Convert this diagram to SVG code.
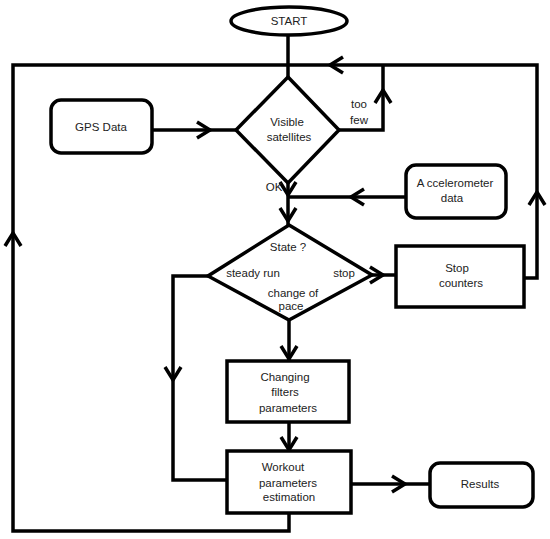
<svg xmlns="http://www.w3.org/2000/svg" xmlns:xlink="http://www.w3.org/1999/xlink" width="550" height="539" viewBox="0 0 550 539">
<style>
.s{fill:#fff;stroke:#000;stroke-width:3.5}
.c{fill:none;stroke:#000;stroke-width:3.5;stroke-linejoin:miter}
text{font-family:"Liberation Sans",Arial,sans-serif;font-size:11.5px;fill:#222;text-anchor:middle}
</style>
<defs>
<path id="chev" d="M-13,-8 L0,0 L-13,8" fill="none" stroke="#000" stroke-width="3.5"/>
</defs>
<rect width="550" height="539" fill="#fff"/>
<g id="connectors">
<path class="c" d="M288,35 V77"/>
<path class="c" d="M289,513 V531 H13 V65 H288"/>
<path class="c" d="M524,278 H537 V65 H288"/>
<path class="c" d="M339,130 H383 V65"/>
<path class="c" d="M152,130 H236"/>
<path class="c" d="M288,183 V225"/>
<path class="c" d="M406,197 H288"/>
<path class="c" d="M372,275 H396"/>
<path class="c" d="M289,320 V361"/>
<path class="c" d="M289,422 V451"/>
<path class="c" d="M208,276 H173 V480 H227"/>
<path class="c" d="M351,484 H430"/>
<use xlink:href="#chev" transform="translate(13,233) rotate(-90)"/>
<use xlink:href="#chev" transform="translate(537,192) rotate(-90)"/>
<use xlink:href="#chev" transform="translate(330,65) rotate(180)"/>
<use xlink:href="#chev" transform="translate(383,90) rotate(-90)"/>
<use xlink:href="#chev" transform="translate(210,130)"/>
<use xlink:href="#chev" transform="translate(288,195) rotate(90)"/>
<use xlink:href="#chev" transform="translate(288,221) rotate(90)"/>
<use xlink:href="#chev" transform="translate(351,197) rotate(180)"/>
<use xlink:href="#chev" transform="translate(383,275)"/>
<use xlink:href="#chev" transform="translate(289,359) rotate(90)"/>
<use xlink:href="#chev" transform="translate(289,450) rotate(90)"/>
<use xlink:href="#chev" transform="translate(173,380) rotate(90)"/>
<use xlink:href="#chev" transform="translate(405,484)"/>
<text x="359" y="108">too</text>
<text x="359" y="124">few</text>
<text x="274" y="191">OK</text>
</g>
<g id="start">
<ellipse class="s" cx="289" cy="21" rx="58" ry="14"/>
<text x="289" y="25">START</text>
</g>
<g id="gps">
<rect class="s" x="51" y="100" width="101" height="53" rx="10"/>
<text x="101" y="131">GPS Data</text>
</g>
<g id="visible">
<polygon class="s" points="288,77 339,130 288,183 236,130"/>
<text x="287" y="126">Visible</text>
<text x="289" y="141">satellites</text>
</g>
<g id="accel">
<rect class="s" x="406" y="165" width="100" height="53" rx="10"/>
<text x="455" y="187">A ccelerometer</text>
<text x="452" y="202">data</text>
</g>
<g id="state">
<polygon class="s" points="289,225 372,275 289,320 208,276"/>
<text x="288" y="251">State ?</text>
<text x="253" y="277">steady run</text>
<text x="344" y="277">stop</text>
<text x="293" y="297">change of</text>
<text x="291" y="310">pace</text>
</g>
<g id="stop">
<rect class="s" x="396" y="246" width="128" height="61"/>
<text x="457" y="272">Stop</text>
<text x="461" y="287">counters</text>
</g>
<g id="changing">
<rect class="s" x="227" y="361" width="122" height="61"/>
<text x="285" y="381">Changing</text>
<text x="285" y="396">filters</text>
<text x="288" y="412">parameters</text>
</g>
<g id="workout">
<rect class="s" x="227" y="451" width="124" height="62"/>
<text x="283" y="471">Workout</text>
<text x="288" y="487">parameters</text>
<text x="289" y="501">estimation</text>
</g>
<g id="results">
<rect class="s" x="430" y="463" width="103" height="44" rx="10"/>
<text x="480" y="488">Results</text>
</g>
</svg>
